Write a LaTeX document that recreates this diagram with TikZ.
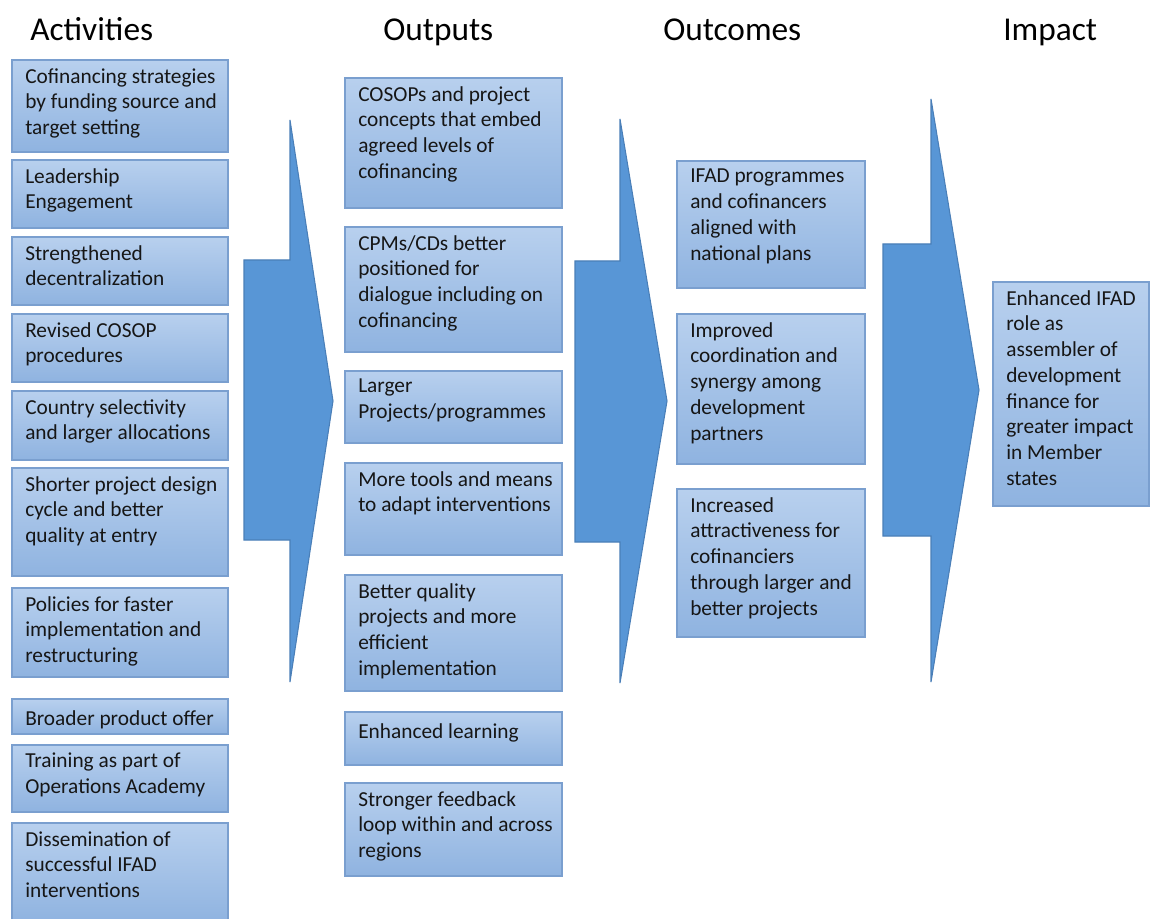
\documentclass[tikz,border=0pt]{standalone}
\usepackage{fontspec}
\setmainfont{Carlito}
\definecolor{boxtop}{HTML}{B8D0EE}
\definecolor{boxbot}{HTML}{8FB3E0}
\definecolor{boxline}{HTML}{7A9FCF}
\definecolor{arrfill}{HTML}{5896D6}
\definecolor{arrline}{HTML}{4A7FB8}
\definecolor{ink}{HTML}{161616}
\tikzset{
  boxfill/.style={top color=boxtop, bottom color=boxbot, draw=boxline, line width=0.8pt},
  blockarrow/.style={fill=arrfill, draw=arrline, line width=0.8pt, line join=miter},
  txt/.style={anchor=north west, inner sep=0pt, align=left, text=ink,
    font=\fontsize{16}{19.3}\selectfont, execute at begin node=\strut},
  head/.style={anchor=base west, inner sep=0pt, text=black,
    font=\fontsize{25}{28}\selectfont}
}
\newcommand\tbox[6]{%
  \path[boxfill] (#2,#3) rectangle (#4,#5);
  \node[txt] (#1) at (#2+13,#3+8) {#6};
}
\begin{document}
\begin{tikzpicture}[x=0.75pt,y=-0.75pt]
\useasboundingbox[fill=white] (0,0) rectangle (1151,919);

% headings
\node[head] (hAct) at (30,41) {Activities};
\node[head] (hOut) at (383,41) {Outputs};
\node[head] (hOc) at (663,41) {Outcomes};
\node[head] (hImp) at (1003,41) {Impact};

% block arrows
\draw[blockarrow] (244,260) -- (290,260) -- (290,120) -- (333,401) -- (290,682) -- (290,540) -- (244,540) -- cycle;
\draw[blockarrow] (575,261) -- (620,261) -- (620,119) -- (667,401) -- (620,683) -- (620,542) -- (575,542) -- cycle;
\draw[blockarrow] (883,244) -- (931,244) -- (931,99) -- (979,390) -- (931,682) -- (931,536) -- (883,536) -- cycle;

% activities
\tbox{a1}{12}{60}{228}{152}{Cofinancing strategies\\by funding source and\\target setting}
\tbox{a2}{12}{160}{228}{228}{Leadership\\Engagement}
\tbox{a3}{12}{237}{228}{305}{Strengthened\\decentralization}
\tbox{a4}{12}{314}{228}{382}{Revised COSOP\\procedures}
\tbox{a5}{12}{391}{228}{460}{Country selectivity\\and larger allocations}
\tbox{a6}{12}{468}{228}{576}{Shorter project design\\cycle and better\\quality at entry}
\tbox{a7}{12}{588}{228}{677}{Policies for faster\\implementation and\\restructuring}
\tbox{a8}{12}{699}{228}{734}{Broader product offer}
\tbox{a9}{12}{745}{228}{812}{Training as part of\\Operations Academy}
\tbox{a10}{12}{823}{228}{922}{Dissemination of\\successful IFAD\\interventions}

% outputs
\tbox{o1}{345}{78}{562}{208}{COSOPs and project\\concepts that embed\\agreed levels of\\cofinancing}
\tbox{o2}{345}{227}{562}{352}{CPMs/CDs better\\positioned for\\dialogue including on\\cofinancing}
\tbox{o3}{345}{371}{562}{443}{Larger\\Projects/programmes}
\tbox{o4}{345}{463}{562}{555}{More tools and means\\to adapt interventions}
\tbox{o5}{345}{575}{562}{691}{Better quality\\projects and more\\efficient\\implementation}
\tbox{o6}{345}{712}{562}{765}{Enhanced learning}
\tbox{o7}{345}{783}{562}{876}{Stronger feedback\\loop within and across\\regions}

% outcomes
\tbox{c1}{677}{161}{865}{288}{IFAD programmes\\and cofinancers\\aligned with\\national plans}
\tbox{c2}{677}{314}{865}{464}{Improved\\coordination and\\synergy among\\development\\partners}
\tbox{c3}{677}{489}{865}{637}{Increased\\attractiveness for\\cofinanciers\\through larger and\\better projects}

% impact
\tbox{i1}{993}{282}{1149}{506}{Enhanced IFAD\\role as\\assembler of\\development\\finance for\\greater impact\\in Member\\states}
\end{tikzpicture}
\end{document}
